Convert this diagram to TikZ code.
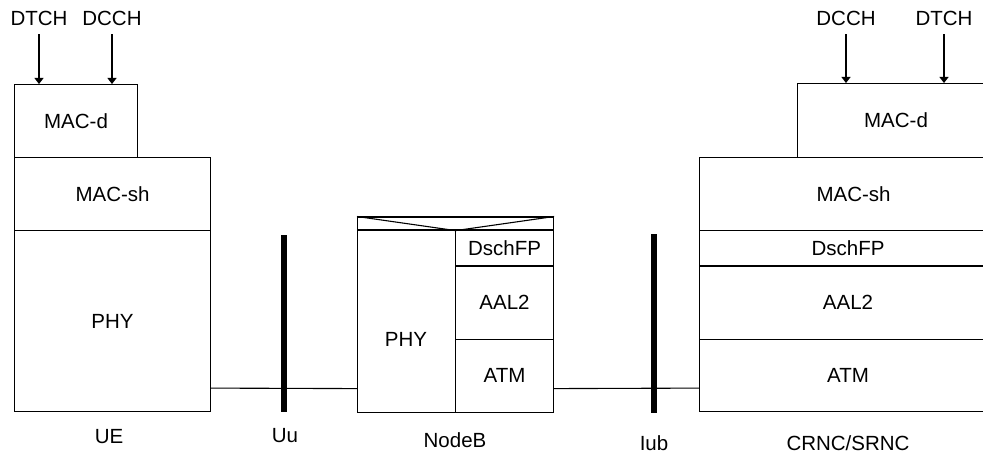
\documentclass[tikz,border=0pt]{standalone}
\usepackage{fontspec}
\setmainfont{Liberation Sans}
\usetikzlibrary{arrows.meta,calc}
\tikzset{
  txt/.style={font=\fontsize{20.5}{24}\selectfont},
  layer/.style={draw, line width=1.1pt, anchor=north west, inner sep=0pt, txt},
  lbl/.style={inner sep=0pt, txt},
  bar/.style={fill=black, draw=none, minimum width=6pt, inner sep=0pt, anchor=north},
  arr/.style={-{Triangle[width=9pt,length=6pt]}, line width=1.1pt},
  link/.style={line width=1.1pt}
}
\begin{document}
\begin{tikzpicture}[x=1pt,y=-1pt]
\fill[white] (0,0) rectangle (983,457);
\useasboundingbox (0,0) rectangle (983,457);

% UE
\node[layer, minimum width=123, minimum height=73] (umacd) at (14,84) {MAC-d};
\node[layer, minimum width=196, minimum height=73] (umacsh) at (14,157) {MAC-sh};
\node[layer, minimum width=196, minimum height=181] (uphy) at (14,230) {PHY};
\node[lbl] (udtch) at (39,18) {DTCH};
\node[lbl] (udcch) at (112,18) {DCCH};
\draw[arr] ([yshift=-9pt]udtch.south) -- (udtch.south |- umacd.north);
\draw[arr] ([yshift=-9pt]udcch.south) -- (udcch.south |- umacd.north);
\node[lbl] (uel) at (109,437) {UE};

% Uu
\node[bar, minimum height=177] (uu) at (284,235) {};
\node[lbl] (uul) at (285,436) {Uu};

% NodeB
\node[layer, minimum width=196, minimum height=13] (nbtop) at (357,216.5) {};
\draw[link] (nbtop.north west) -- (nbtop.south) -- (nbtop.north east);
\node[layer, minimum width=98, minimum height=182] (nbphy) at (357,229.5) {};
\node[lbl] (nbphyl) at (406,339) {PHY};
\node[layer, minimum width=98, minimum height=36] (nbdsch) at (455,229.5) {DschFP};
\node[layer, minimum width=98, minimum height=73] (nbaal) at (455,265.5) {AAL2};
\node[layer, minimum width=98, minimum height=73] (nbatm) at (455,338.5) {ATM};
\node[lbl] (nbl) at (455,440) {NodeB};

\draw[link] ($(uphy.south east)+(0,-24)$) -- ($(nbphy.south west)+(0,-24)$);

% Iub
\node[bar, minimum height=179] (iub) at (654,234) {};
\node[lbl] (iubl) at (654,443) {Iub};

% CRNC/SRNC
\node[layer, minimum width=197, minimum height=74] (rmacd) at (797,83) {MAC-d};
\node[layer, minimum width=308, minimum height=73] (rmacsh) at (699,157) {MAC-sh};
\node[layer, minimum width=297, minimum height=35.5] (rdsch) at (699,230) {DschFP};
\node[layer, minimum width=297, minimum height=73.5] (raal) at (699,265.5) {AAL2};
\node[layer, minimum width=297, minimum height=72] (ratm) at (699,339) {ATM};
\node[lbl] (rdcch) at (846,18) {DCCH};
\node[lbl] (rdtch) at (944,18) {DTCH};
\draw[arr] ([yshift=-9pt]rdcch.south) -- (rdcch.south |- rmacd.north);
\draw[arr] ([yshift=-9pt]rdtch.south) -- (rdtch.south |- rmacd.north);
\node[lbl] (rl) at (848,443) {CRNC/SRNC};

\draw[link] ($(nbatm.south east)+(0,-24)$) -- ($(ratm.south west)+(0,-24)$);
\end{tikzpicture}
\end{document}
